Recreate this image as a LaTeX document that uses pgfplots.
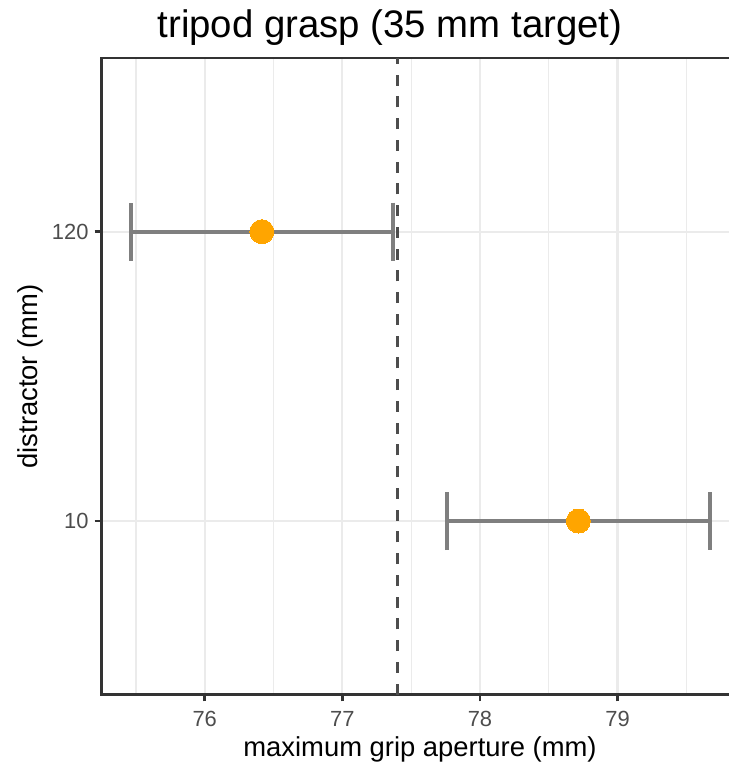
\documentclass[border=0pt]{standalone}
\usepackage{pgfplots}
\pgfplotsset{compat=1.18}
\usepackage{pgfplotstable}
\usepackage{fontspec}
\setmainfont{Liberation Sans}

\definecolor{grid92}{HTML}{EBEBEB}
\definecolor{gray20}{HTML}{333333}
\definecolor{gray30}{HTML}{4D4D4D}
\definecolor{gray50}{HTML}{7F7F7F}
\definecolor{ptorange}{HTML}{FFA500}

% mean maximum grip aperture with its confidence half-width
% y: 1 = distractor 10 mm, 2 = distractor 120 mm
\pgfplotstableread{
y   mga     ci
1   78.715  0.954
2   76.415  0.954
}\mgadata

\begin{document}
\begin{tikzpicture}[x=1bp,y=1bp]
\useasboundingbox (0,0) rectangle (291.6,306);
\begin{axis}[
  at={(40.56bp,28.16bp)}, anchor=south west,
  scale only axis, width=254.7bp, height=254.6bp,
  xmin=75.249, xmax=79.876, ymin=0.4, ymax=2.6,
  xtick={76,77,78,79}, xticklabels={76,77,78,79},
  minor xtick={75.5,76.5,77.5,78.5,79.5},
  ytick={1,2}, yticklabels={10,120},
  grid=both,
  major grid style={draw=grid92, line width=0.9bp},
  minor grid style={draw=grid92, line width=0.5bp},
  axis line style={draw=gray20, line width=1.1bp},
  tick style={draw=gray20, line width=1.1bp},
  tick align=outside, major tick length=2.75bp, minor tick length=0pt,
  xtick pos=bottom, ytick pos=left,
  xticklabel style={font=\fontsize{8.8}{10}\selectfont, text=gray30, anchor=base, inner sep=0pt, yshift=-9.85bp},
  yticklabel style={font=\fontsize{8.8}{10}\selectfont, text=gray30, anchor=east, inner sep=0pt, xshift=-2.2bp},
  clip=false,
]
  % confidence intervals
  \addplot[draw=none, mark=none,
    error bars/.cd, x dir=both, x explicit, error mark=|,
    error bar style={draw=gray50, line width=1.6bp},
    error mark options={draw=gray50, line width=1.6bp, mark size=11.6bp}]
    table[x=mga, y=y, x error=ci] {\mgadata};
  % means
  \addplot[only marks, color=ptorange, mark=*, mark size=4.8bp,
    mark options={fill=ptorange, draw=ptorange, line width=0pt}]
    table[x=mga, y=y] {\mgadata};
  % reference aperture
  \addplot[draw=gray30, line width=1.05bp, dash pattern=on 4.4bp off 4.3bp]
    coordinates {(77.40,0.4) (77.40,2.6)};
\end{axis}
\node[anchor=base, font=\fontsize{15.4}{18}\selectfont] at (156,291.2) {tripod grasp (35 mm target)};
\node[anchor=base, font=\fontsize{11}{13}\selectfont] at (168,3.6) {maximum grip aperture (mm)};
\node[anchor=base, rotate=90, font=\fontsize{11}{13}\selectfont] at (14.8,155.4) {distractor (mm)};
\end{tikzpicture}
\end{document}
